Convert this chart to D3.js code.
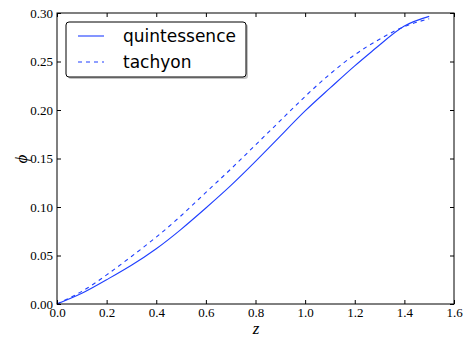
<!DOCTYPE html>
<html>
<head>
<meta charset="utf-8">
<script src="https://cdn.jsdelivr.net/npm/d3@7"></script>
<style>
  body { margin: 0; background: #fff; }
  svg { display: block; }
</style>
</head>
<body>
<svg id="chart" width="465" height="338"></svg>
<script>
// data
const zValues = [0, 0.1, 0.2, 0.3, 0.4, 0.5, 0.6, 0.7, 0.8, 0.9, 1.0, 1.1, 1.2, 1.3, 1.4, 1.5];
const quintessence = [0, 0.011, 0.025, 0.040, 0.057, 0.077, 0.099, 0.122, 0.147, 0.173, 0.199, 0.2225, 0.2455, 0.267, 0.2865, 0.2965];
const tachyon = [0, 0.013, 0.030, 0.049, 0.069, 0.091, 0.115, 0.139, 0.164, 0.189, 0.214, 0.237, 0.257, 0.273, 0.286, 0.294];
const xTicks = [0, 0.2, 0.4, 0.6, 0.8, 1.0, 1.2, 1.4, 1.6];
const yTicks = [0, 0.05, 0.10, 0.15, 0.20, 0.25, 0.30];
const seriesNames = ["quintessence", "tachyon"];

const svg = d3.select("#chart");
const mLeft = 57, mRight = 454, mTop = 13, mBottom = 304;
const blue = "#1f3fff";
const serif = "'Liberation Serif', 'Times New Roman', 'DejaVu Serif', serif";

const x = d3.scaleLinear().domain([0, 1.6]).range([mLeft, mRight]);
const y = d3.scaleLinear().domain([0, 0.30]).range([mBottom, mTop]);

const fmtX = d3.format(".1f");
const fmtY = d3.format(".2f");

// curves
const line = d3.line()
  .x(d => x(d[0]))
  .y(d => y(d[1]))
  .curve(d3.curveNatural);

const g = svg.append("g");
g.append("path")
  .datum(zValues.map((z, i) => [z, quintessence[i]]))
  .attr("d", line)
  .attr("fill", "none")
  .attr("stroke", blue)
  .attr("stroke-width", 1.1);
g.append("path")
  .datum(zValues.map((z, i) => [z, tachyon[i]]))
  .attr("d", line)
  .attr("fill", "none")
  .attr("stroke", blue)
  .attr("stroke-width", 1.1)
  .attr("stroke-dasharray", "4,4");

// axes, ticks pointing inward on all four sides
const axisStyle = (sel) => {
  sel.attr("font-family", null).attr("font-size", null);
  sel.select(".domain").remove();
  sel.selectAll(".tick line").attr("stroke", "#000").attr("stroke-width", 1);
  sel.selectAll(".tick text")
    .style("font-family", serif)
    .style("font-size", "13px")
    .attr("fill", "#000");
};

svg.append("g")
  .attr("transform", `translate(0,${mBottom})`)
  .call(d3.axisBottom(x).tickValues(xTicks).tickFormat(fmtX).tickSizeInner(-4).tickPadding(4))
  .call(axisStyle);
svg.append("g")
  .attr("transform", `translate(0,${mTop})`)
  .call(d3.axisTop(x).tickValues(xTicks).tickFormat("").tickSizeInner(-4))
  .call(axisStyle);
svg.append("g")
  .attr("transform", `translate(${mLeft},0)`)
  .call(d3.axisLeft(y).tickValues(yTicks).tickFormat(fmtY).tickSizeInner(-4).tickPadding(4))
  .call(axisStyle);
svg.append("g")
  .attr("transform", `translate(${mRight},0)`)
  .call(d3.axisRight(y).tickValues(yTicks).tickFormat("").tickSizeInner(-4))
  .call(axisStyle);

// frame
svg.append("rect")
  .attr("x", mLeft).attr("y", mTop)
  .attr("width", mRight - mLeft).attr("height", mBottom - mTop)
  .attr("fill", "none")
  .attr("stroke", "#000")
  .attr("stroke-width", 1);

// axis labels
svg.append("text")
  .attr("x", 256)
  .attr("y", 334)
  .attr("text-anchor", "middle")
  .style("font-family", serif)
  .style("font-style", "italic")
  .style("font-size", "17px")
  .text("z");
svg.append("text")
  .attr("transform", "translate(27,159) rotate(-90)")
  .attr("text-anchor", "middle")
  .style("font-family", serif)
  .style("font-style", "italic")
  .style("font-size", "17px")
  .text("ϕ");

// legend
const leg = svg.append("g").attr("transform", "translate(66,22)");
leg.append("rect")
  .attr("x", 2).attr("y", 2)
  .attr("width", 180).attr("height", 55)
  .attr("rx", 3)
  .attr("fill", "#888")
  .attr("opacity", 0.5);
leg.append("rect")
  .attr("width", 180).attr("height", 55)
  .attr("rx", 3)
  .attr("fill", "#fff")
  .attr("stroke", "#000")
  .attr("stroke-width", 1);

seriesNames.forEach((name, i) => {
  const cy = 14 + i * 26;
  leg.append("line")
    .attr("x1", 12).attr("x2", 38)
    .attr("y1", cy).attr("y2", cy)
    .attr("stroke", blue)
    .attr("stroke-width", 1.1)
    .attr("stroke-dasharray", i === 1 ? "4,4" : null);
  leg.append("text")
    .attr("x", 57)
    .attr("y", cy)
    .attr("dy", "0.35em")
    .style("font-family", "'DejaVu Sans', sans-serif")
    .style("font-size", "17px")
    .attr("fill", "#000")
    .text(name);
});
</script>
</body>
</html>
